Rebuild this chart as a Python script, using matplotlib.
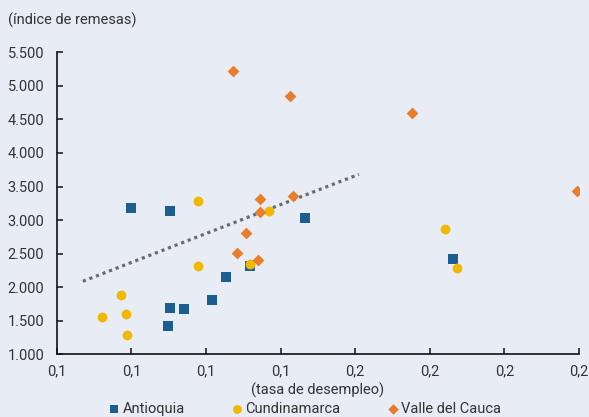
#!/usr/bin/env python3
"""Remesas vs. tasa de desempleo por departamento (scatter con tendencia)."""

import matplotlib
matplotlib.use("Agg")
import matplotlib.pyplot as plt
from matplotlib.ticker import FuncFormatter

# valores
antioquia_x = [0.0999, 0.1104, 0.1253, 0.1216, 0.1104, 0.1141, 0.1098, 0.1317, 0.1465, 0.1862]
antioquia_y = [3184, 3139, 2152, 1809, 1694, 1679, 1426, 2311, 3035, 2424]

cundinamarca_x = [0.1178, 0.1178, 0.0972, 0.0922, 0.0986, 0.0988, 0.1318, 0.1370, 0.1841, 0.1873]
cundinamarca_y = [3284, 2320, 1879, 1560, 1605, 1283, 2345, 3139, 2862, 2290]

valle_x = [0.1273, 0.1425, 0.1345, 0.1433, 0.1345, 0.1307, 0.1284, 0.1340, 0.1753, 0.2195]
valle_y = [5221, 4853, 3314, 3363, 3125, 2812, 2514, 2401, 4600, 3429]

trend_x = [0.0870, 0.1610]
trend_y = [2088, 3682]

x_ticks = [0.08, 0.10, 0.12, 0.14, 0.16, 0.18, 0.20, 0.22]
y_ticks = [1000, 1500, 2000, 2500, 3000, 3500, 4000, 4500, 5000, 5500]

BG = "#e8ecf5"
BLUE = "#1a5f8f"
YELLOW = "#f0b800"
ORANGE = "#e97d2b"
GREY = "#6b6b6b"
TEXT = "#333333"

plt.rcParams["font.family"] = ["Roboto", "DejaVu Sans"]

fig = plt.figure(figsize=(5.89, 4.17), dpi=100, facecolor=BG)
ax = fig.add_axes([0.0963, 0.1504, 0.983 - 0.0963, 0.8746 - 0.1504])
ax.set_facecolor(BG)

ax.plot(trend_x, trend_y, color=GREY, lw=2.3, linestyle=(0, (1, 1.2)),
        dash_capstyle="butt", zorder=2)
ax.scatter(antioquia_x, antioquia_y, marker="s", s=48, color=BLUE,
           linewidths=0, zorder=3, label="Antioquia")
ax.scatter(cundinamarca_x, cundinamarca_y, marker="o", s=50, color=YELLOW,
           linewidths=0, zorder=3, label="Cundinamarca")
ax.scatter(valle_x, valle_y, marker="D", s=36, color=ORANGE,
           linewidths=0, zorder=3, label="Valle del Cauca")

ax.set_xlim(x_ticks[0], x_ticks[-1])
ax.set_ylim(y_ticks[0], y_ticks[-1])
ax.set_xticks(x_ticks)
ax.set_yticks(y_ticks)
ax.xaxis.set_major_formatter(FuncFormatter(lambda v, p: f"{v:.1f}".replace(".", ",")))
ax.yaxis.set_major_formatter(FuncFormatter(lambda v, p: f"{int(v):,}".replace(",", ".")))

for side in ("top", "right"):
    ax.spines[side].set_visible(False)
for side in ("left", "bottom"):
    ax.spines[side].set_color("#111111")
    ax.spines[side].set_linewidth(1.2)

ax.tick_params(axis="both", direction="in", length=4, width=1.1, color="#111111",
               labelsize=10.5, labelcolor=TEXT)
ax.tick_params(axis="y", pad=9)
ax.tick_params(axis="x", pad=7)

ax.set_xlabel("(tasa de desempleo)", fontsize=10.5, color=TEXT, labelpad=3)
fig.text(0.014, 0.952, "(índice de remesas)", fontsize=10.5, color=TEXT,
         ha="left", va="center")

fig.legend(loc="center", bbox_to_anchor=(0.516, 0.019), ncol=3, frameon=False,
           fontsize=10.5, labelcolor=TEXT, handletextpad=0.05, columnspacing=3.1,
           handlelength=1.0, borderpad=0, markerscale=0.9)

fig.savefig("out.png", dpi=100, facecolor=BG)
